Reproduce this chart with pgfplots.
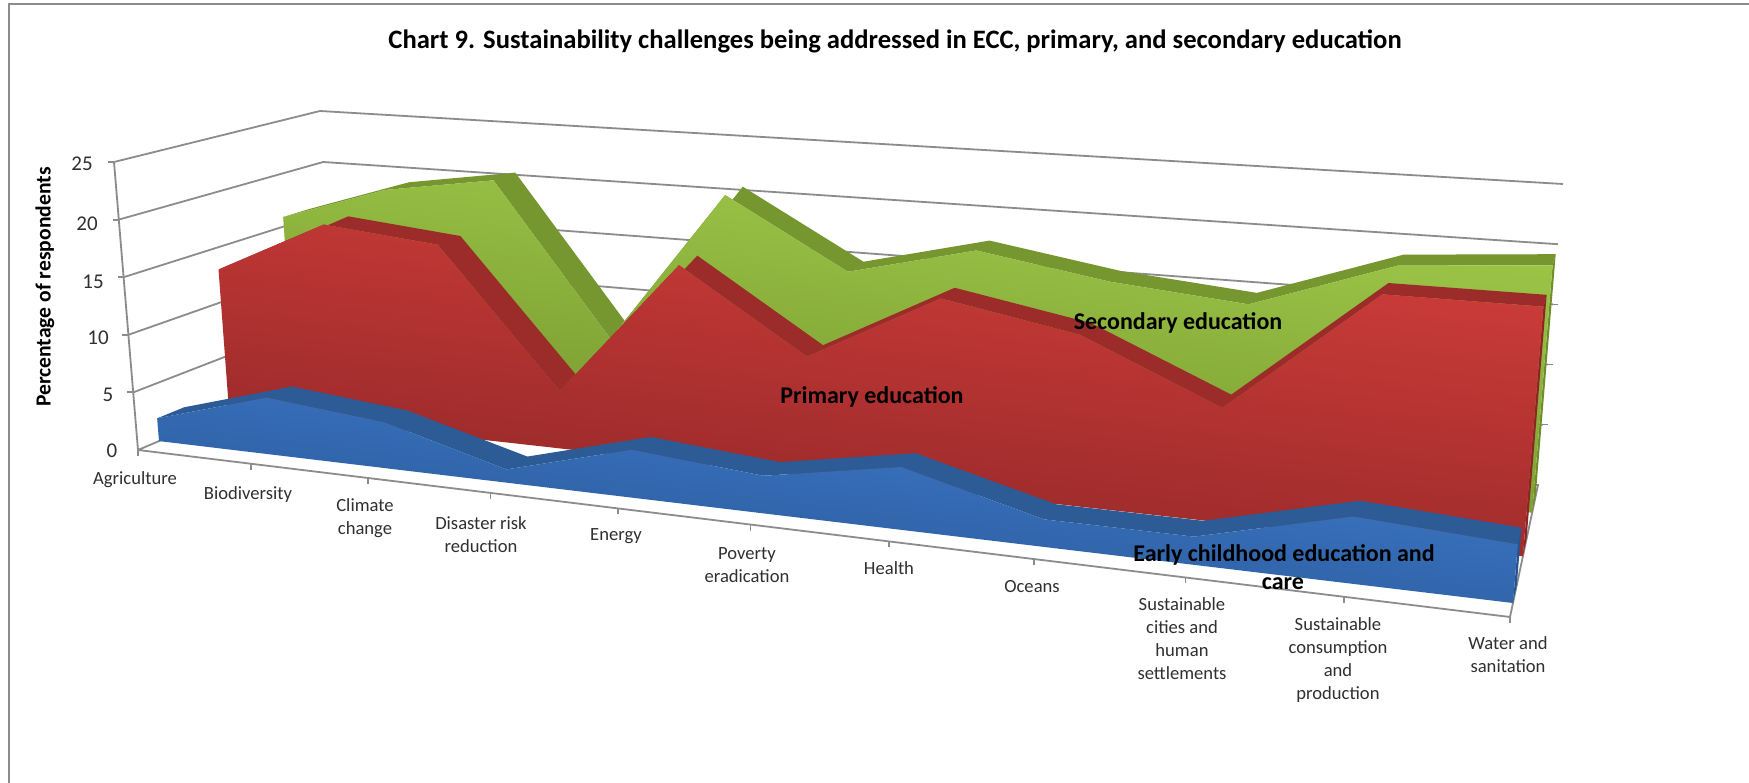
\documentclass[border=0pt]{standalone}
\usepackage{fontspec}
\setmainfont{Carlito}
\usepackage{pgfplots}
\pgfplotsset{compat=1.18}
\usepackage{pgfplotstable}

% Perspective box: category index/10, value/25 and depth (0 front, 1 back) to page coordinates
\pgfplotsset{
  /pgf/declare function={
    lerp(\p,\q,\s)=\p+(\q-\p)*\s;
    warp(\t)=\t/(1.24-0.24*\t);
    projx(\u,\w,\d)=lerp(lerp(lerp(138,336,\d),lerp(114,320,\d),\w),lerp(lerp(1510,1538,\d),lerp(1539,1563,\d),\w),warp(\u));
    projy(\u,\w,\d)=lerp(lerp(lerp(450,366,\d),lerp(162,111,\d),\w),lerp(lerp(617,485,\d),lerp(262,184,\d),\w),warp(\u));
  },
  table/proj/.style 2 args={
    x expr={projx(\thisrow{c}/10,\thisrow{v}/25,#1+\thisrow{f}*#2)},
    y expr={projy(\thisrow{c}/10,\thisrow{v}/25,#1+\thisrow{f}*#2)},
  },
}

\definecolor{wall}{HTML}{8C8C8C}
\definecolor{txt}{HTML}{303030}
\definecolor{greenhi}{HTML}{A2CD4B}
\definecolor{greenlo}{HTML}{6F8E2A}
\definecolor{greentop}{HTML}{76962F}
\definecolor{redhi}{HTML}{D23E3B}
\definecolor{redlo}{HTML}{8C2526}
\definecolor{redtop}{HTML}{9C2C2A}
\definecolor{bluehi}{HTML}{3F7ED0}
\definecolor{bluelo}{HTML}{275390}
\definecolor{bluetop}{HTML}{2C5B96}

% Secondary education
\pgfplotstableread{
c v f
0 15.9 0
1 19.2 0
2 20.8 0
3 7.1 0
4 20.9 0
5 14.9 0
6 17.6 0
7 15.8 0
8 14.8 0
9 18.9 0
10 19.8 0
10 19.8 1
9 18.9 1
8 14.8 1
7 15.8 1
6 17.6 1
5 14.9 1
4 20.9 1
3 7.1 1
2 20.8 1
1 19.2 1
0 15.9 1
}\secondarytop
\pgfplotstableread{
c v f
0 15.9 0
1 19.2 0
2 20.8 0
3 7.1 0
4 20.9 0
5 14.9 0
6 17.6 0
7 15.8 0
8 14.8 0
9 18.9 0
10 19.8 0
10 0 0
0 0 0
}\secondaryfront
\pgfplotstableread{
c v f
10 19.8 0
10 19.8 1
10 0 1
10 0 0
}\secondaryend

% Primary education
\pgfplotstableread{
c v f
0 13.0 0
1 17.9 0
2 16.9 0
3 5.0 0
4 16.8 0
5 10.0 0
6 15.8 0
7 13.8 0
8 9.0 0
9 18.9 0
10 18.9 0
10 18.9 1
9 18.9 1
8 9.0 1
7 13.8 1
6 15.8 1
5 10.0 1
4 16.8 1
3 5.0 1
2 16.9 1
1 17.9 1
0 13.0 1
}\primarytop
\pgfplotstableread{
c v f
0 13.0 0
1 17.9 0
2 16.9 0
3 5.0 0
4 16.8 0
5 10.0 0
6 15.8 0
7 13.8 0
8 9.0 0
9 18.9 0
10 18.9 0
10 0 0
0 0 0
}\primaryfront
\pgfplotstableread{
c v f
10 18.9 0
10 18.9 1
10 0 1
10 0 0
}\primaryend

% Early childhood education and care
\pgfplotstableread{
c v f
0 2.0 0
1 4.9 0
2 3.9 0
3 1.1 0
4 3.9 0
5 3.0 0
6 4.9 0
7 2.1 0
8 2.1 0
9 4.9 0
10 4.2 0
10 4.2 1
9 4.9 1
8 2.1 1
7 2.1 1
6 4.9 1
5 3.0 1
4 3.9 1
3 1.1 1
2 3.9 1
1 4.9 1
0 2.0 1
}\earlytop
\pgfplotstableread{
c v f
0 2.0 0
1 4.9 0
2 3.9 0
3 1.1 0
4 3.9 0
5 3.0 0
6 4.9 0
7 2.1 0
8 2.1 0
9 4.9 0
10 4.2 0
10 0 0
0 0 0
}\earlyfront
\pgfplotstableread{
c v f
10 4.2 0
10 4.2 1
10 0 1
10 0 0
}\earlyend

\newcommand\catlabel[3]{\node[font=\fontsize{18.6}{23}\selectfont,text=txt,align=center,inner sep=0pt] at (axis cs:#1,#2) {#3};}
\newcommand\vallabel[3]{\node[font=\fontsize{21}{24}\selectfont,text=txt,inner sep=0pt] at (axis cs:#1,#2) {#3};}
\newcommand\serieslabel[3]{\node[font=\fontsize{24}{29}\selectfont\bfseries,text=black,inner sep=0pt] at (axis cs:#1,#2) {#3};}

\begin{document}
\begin{tikzpicture}
\begin{axis}[
  hide axis, scale only axis, width=1749pt, height=783pt,
  xmin=0, xmax=1749, ymin=0, ymax=783, y dir=reverse,
  no markers, clip=true,
]
% page background and chart frame
\addplot[fill=white,draw=none] coordinates {(0,0)(1749,0)(1749,783)(0,783)};
\addplot[wall,line width=2pt] coordinates {(9,783)(9,4)(1749,4)};

% wall gridlines
\pgfplotsinvokeforeach{5,10,15,20,25}{
  \addplot[wall,line width=1.8pt] table[proj={0}{1},row sep=\\]{c v f\\0 #1 0\\0 #1 1\\10 #1 1\\};
  \addplot[wall,line width=1.8pt] table[x expr={projx(0,#1/25,0)-\thisrow{k}*6},y expr={projy(0,#1/25,0)},row sep=\\]{k\\0\\1\\};
}
\pgfplotsinvokeforeach{5,10,15}{
  \addplot[wall,line width=1.2pt] table[x expr={projx(1,#1/25,1)+\thisrow{k}*5},y expr={projy(1,#1/25,1)},row sep=\\]{k\\0\\1\\};
}
% floor outline and value axis
\addplot[wall,line width=1.8pt] table[proj={0}{1},row sep=\\]{c v f\\0 25 0\\0 0 0\\10 0 0\\10 0 1\\0 0 1\\0 0 0\\};
% category ticks
\pgfplotsinvokeforeach{0,...,10}{
  \addplot[wall,line width=1.6pt] table[x expr={projx(#1/10,0,0)},y expr={projy(#1/10,0,0)+\thisrow{k}*6},row sep=\\]{k\\0\\1\\};
}

% series, back to front
\addplot[fill=greentop,draw=none] table[proj={0.79}{0.125}] {\secondarytop};
\addplot[fill=greenlo,draw=none] table[proj={0.79}{0.125}] {\secondaryend};
\addplot[draw=none,top color=greenhi,bottom color=greenlo,shading angle=-7] table[proj={0.79}{0}] {\secondaryfront};

\addplot[fill=redtop,draw=none] table[proj={0.46}{0.13}] {\primarytop};
\addplot[fill=redlo,draw=none] table[proj={0.46}{0.13}] {\primaryend};
\addplot[draw=none,top color=redhi,bottom color=redlo,shading angle=-7] table[proj={0.46}{0}] {\primaryfront};

\addplot[fill=bluetop,draw=none] table[proj={0.106}{0.136}] {\earlytop};
\addplot[fill=bluelo,draw=none] table[proj={0.106}{0.136}] {\earlyend};
\addplot[draw=none,top color=bluehi,bottom color=bluelo,shading angle=-7] table[proj={0.106}{0}] {\earlyfront};

% titles
\node[font=\fontsize{26.6}{30}\selectfont\bfseries,text=black,inner sep=0pt] at (axis cs:895,41) {Chart 9. Sustainability challenges being addressed in ECC, primary, and secondary education};
\node[font=\fontsize{21.6}{23}\selectfont\bfseries,text=black,inner sep=0pt,rotate=90] at (axis cs:45,287) {Percentage of respondents};

% value axis numbers
\vallabel{82}{164}{25}
\vallabel{87}{224}{20}
\vallabel{93}{282}{15}
\vallabel{98}{338}{10}
\vallabel{108}{395}{5}
\vallabel{112}{451}{0}

% category names
\catlabel{135}{480}{Agriculture}
\catlabel{248}{495}{Biodiversity}
\catlabel{365}{518}{Climate\\change}
\catlabel{481}{535}{Disaster risk\\reduction}
\catlabel{616}{536}{Energy}
\catlabel{747}{565}{Poverty\\eradication}
\catlabel{889}{568}{Health}
\catlabel{1032}{587}{Oceans}
\catlabel{1182}{639}{Sustainable\\cities and\\human\\settlements}
\catlabel{1338}{660}{Sustainable\\consumption\\and\\production}
\catlabel{1508}{655}{Water and\\sanitation}

% series names
\serieslabel{1178}{323}{Secondary education}
\serieslabel{872}{397}{Primary education}
\serieslabel{1284}{555}{Early childhood education and}
\serieslabel{1283}{584}{care}
\end{axis}
\end{tikzpicture}
\end{document}
